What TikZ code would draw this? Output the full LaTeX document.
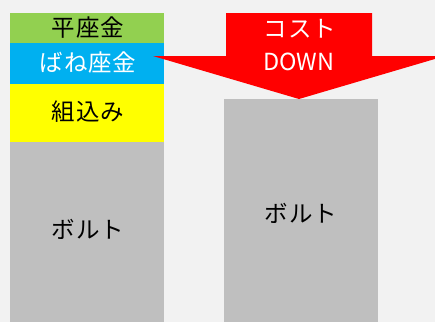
\documentclass[tikz,border=0pt]{standalone}
\usepackage{fontspec}
\setmainfont{Noto Sans CJK JP}[LetterSpace=4]
\definecolor{bg}{HTML}{F2F2F2}
\definecolor{grn}{HTML}{92D050}
\definecolor{blu}{HTML}{00B0F0}
\definecolor{yel}{HTML}{FFFF00}
\definecolor{gry}{HTML}{BFBFBF}
\definecolor{rd}{HTML}{FF0000}
\tikzset{
  blk/.style={anchor=north west, inner sep=0pt, outer sep=0pt, minimum width=154pt},
  lbl/.style={font=\fontsize{23.5}{26}\selectfont, inner sep=0pt},
}
\begin{document}
\begin{tikzpicture}[x=1pt,y=-1pt]
\fill[bg] (0,0) rectangle (435,322);
\useasboundingbox (0,0) rectangle (435,322);
\clip (0,0) rectangle (435,322);
\node[blk, fill=grn, minimum height=30pt] (flat) at (10,13) {};
\node[blk, fill=blu, minimum height=41pt] (spring) at (10,43) {};
\node[blk, fill=yel, minimum height=58pt] (asm) at (10,84) {};
\node[blk, fill=gry, minimum height=180pt] (bolt) at (10,142) {};
\node[blk, fill=gry, minimum height=223pt] (bolt2) at (224,99) {};
\fill[rd] (226,13) -- (372,13) -- (372,56) -- (445,56) -- (299,99) -- (153,56) -- (226,56) -- cycle;
\node[lbl] (t1) at (88,28) {平座金};
\node[lbl, text=white] (t2) at (88,63) {ばね座金};
\node[lbl] (t3) at (88,112) {組込み};
\node[lbl] (t4) at (88,229) {ボルト};
\node[lbl] (t5) at (301,213) {ボルト};
\node[lbl, text=white] (t6) at (300,29) {コスト};
\node[lbl, text=white, font=\fontspec{Noto Sans CJK JP}\fontsize{23.5}{26}\selectfont] (t7) at (299,62) {DOWN};
\end{tikzpicture}
\end{document}
